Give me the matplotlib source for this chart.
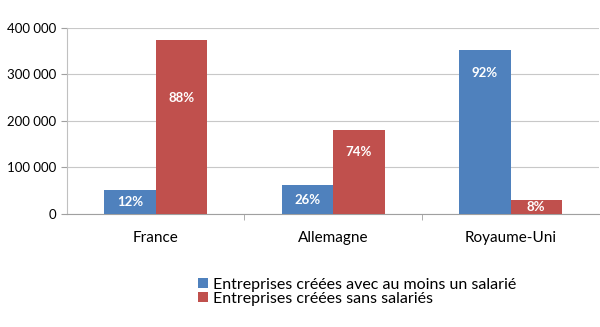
import numpy as np
import matplotlib.pyplot as plt

pays = ["France", "Allemagne", "Royaume-Uni"]
avec_salarie = [52000, 62000, 352000]
sans_salarie = [373000, 180000, 31000]
pct_avec = ["12%", "26%", "92%"]
pct_sans = ["88%", "74%", "8%"]
serie_noms = ["Entreprises créées avec au moins un salarié",
              "Entreprises créées sans salariés"]

bleu = "#4F81BD"
rouge = "#C0504D"
plt.rcParams['font.family'] = ['Lato', 'DejaVu Sans']

fig = plt.figure(figsize=(6, 3.27), dpi=100)
ax = fig.add_axes([0.1117, 0.3456, 0.887, 0.569])

x = np.arange(len(pays))
w = 0.29
b1 = ax.bar(x - w / 2, avec_salarie, w, color=bleu, label=serie_noms[0], zorder=3)
b2 = ax.bar(x + w / 2, sans_salarie, w, color=rouge, label=serie_noms[1], zorder=3)

# where the percentage sits inside each bar (fraction of bar height)
frac_avec = [0.5, 0.5, 0.86]
frac_sans = [0.67, 0.74, 0.5]
for bars, labs, fr in ((b1, pct_avec, frac_avec), (b2, pct_sans, frac_sans)):
    for r, t, f in zip(bars, labs, fr):
        ax.text(r.get_x() + r.get_width() / 2, r.get_height() * f, t,
                ha='center', va='center', color='white', fontsize=9.5,
                fontweight='bold', zorder=4)

ax.set_xlim(-0.5, 2.5)
ax.set_ylim(0, 400000)
ax.set_yticks([0, 100000, 200000, 300000, 400000])
ax.set_yticklabels(["0", "100 000", "200 000", "300 000", "400 000"], fontsize=9.5)
ax.yaxis.grid(True, color="#C8C8C8", linewidth=0.8, zorder=0)

ax.set_xticks(x)
ax.set_xticklabels(pays, fontsize=11)
ax.tick_params(axis='x', length=0, pad=12)
ax.set_xticks([0.5, 1.5], minor=True)
ax.tick_params(axis='x', which='minor', length=4, color="#A0A0A0")
ax.tick_params(axis='y', length=4, color="#A0A0A0", pad=4)

for s in ['top', 'right']:
    ax.spines[s].set_visible(False)
ax.spines['left'].set_color("#C0C0C0")
ax.spines['bottom'].set_color("#A0A0A0")

fig.legend(loc='upper left', bbox_to_anchor=(0.32, 0.17), frameon=False,
           fontsize=11.5, handlelength=0.6, handleheight=0.6, handletextpad=0.3,
           labelspacing=0.0, borderaxespad=0)

fig.savefig("out.png", dpi=100)
